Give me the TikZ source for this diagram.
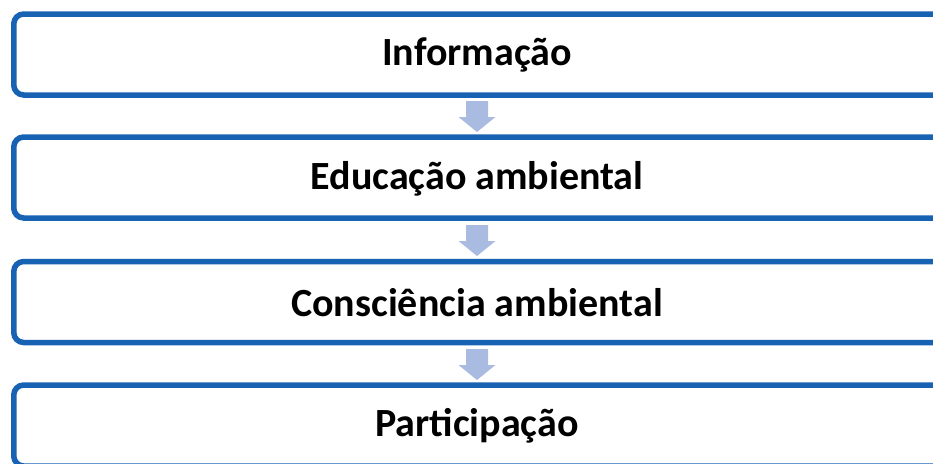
\documentclass[tikz,border=0pt]{standalone}
\usepackage{fontspec}
\setmainfont{Carlito}
\definecolor{boxblue}{HTML}{1862B3}
\definecolor{arrowblue}{HTML}{AABBE2}
\begin{document}
\begin{tikzpicture}[x=1pt,y=-1pt,
  stage/.style={draw=boxblue, line width=5.5pt, rounded corners=10pt, minimum width=1000pt, minimum height=81pt, anchor=west, inner sep=0pt},
  lbl/.style={font=\fontsize{40}{48}\selectfont\bfseries, text=black, anchor=center},
  downarrow/.style={fill=arrowblue, draw=none}]
\useasboundingbox (0,0) rectangle (933,463);
\clip (0,0) rectangle (933,463);
\node[stage] (b1) at (11,54.5) {};
\node[stage] (b2) at (11,177.5) {};
\node[stage] (b3) at (11,302) {};
\node[stage] (b4) at (11,425.5) {};
\node[lbl] (t1) at (477,55) {Informação};
\node[lbl] (t2) at (477,179) {Educação ambiental};
\node[lbl] (t3) at (477,303) {Consciência ambiental};
\node[lbl] (t4) at (477,426) {Participação};
\foreach \n/\y in {a1/101, a2/225, a3/349} {
  \coordinate (\n) at (477,\y);
  \fill[downarrow] ([xshift=-11pt]\n) -- ++(0,16) -- ++(-7.5,0) -- ++(18.5,15) -- ++(18.5,-15) -- ++(-7.5,0) -- ++(0,-16) -- cycle;
}
\end{tikzpicture}
\end{document}
